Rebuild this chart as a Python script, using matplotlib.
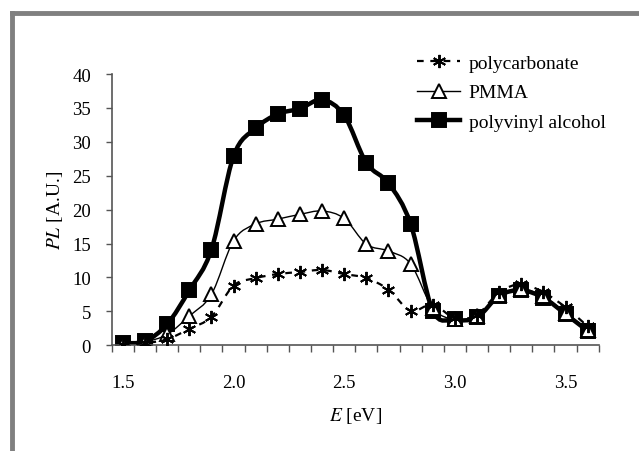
import numpy as np
import matplotlib
matplotlib.use('Agg')
from matplotlib import pyplot as plt
from matplotlib.path import Path
from matplotlib.patches import PathPatch
from matplotlib.lines import Line2D

energy = [1.5, 1.6, 1.7, 1.8, 1.9, 2.0, 2.1, 2.2, 2.3, 2.4, 2.5,
          2.6, 2.7, 2.8, 2.9, 3.0, 3.1, 3.2, 3.3, 3.4, 3.5, 3.6]
polycarbonate = [0.1, 0.3, 0.9, 2.4, 4.2, 8.8, 9.9, 10.5, 10.8, 11.1, 10.5,
                 9.9, 8.2, 5.1, 6.0, 4.0, 4.5, 7.8, 9.0, 7.8, 5.6, 2.8]
pmma = [0.2, 0.5, 1.6, 4.3, 7.5, 15.4, 17.9, 18.6, 19.3, 19.8, 18.7,
        14.9, 13.9, 12.0, 5.5, 3.8, 4.3, 7.4, 8.3, 7.2, 4.8, 2.3]
pva = [0.3, 0.6, 3.1, 8.1, 14.1, 27.9, 32.0, 34.1, 34.9, 36.2, 33.9,
       26.9, 23.9, 17.9, 5.1, 3.8, 4.1, 7.3, 8.1, 7.0, 4.6, 2.1]
x_labels = [1.5, 2.0, 2.5, 3.0, 3.5]

plt.rcParams['font.family'] = ['Liberation Serif', 'DejaVu Serif']
plt.rcParams['mathtext.fontset'] = 'stix'


def smooth_path(xs, ys):
    # excel-like smoothed line: bezier segments through the points
    xs = np.asarray(xs, float)
    ys = np.asarray(ys, float)
    pts = np.column_stack([xs, ys])
    verts = [pts[0]]
    codes = [Path.MOVETO]
    n = len(pts)
    for i in range(n - 1):
        p0 = pts[i - 1] if i > 0 else pts[i]
        p1 = pts[i]
        p2 = pts[i + 1]
        p3 = pts[i + 2] if i + 2 < n else pts[i + 1]
        c1 = p1 + (p2 - p0) / 6.0
        c2 = p2 - (p3 - p1) / 6.0
        verts += [c1, c2, p2]
        codes += [Path.CURVE4] * 3
    return Path(verts, codes)


fig = plt.figure(figsize=(6.39, 4.52), dpi=100)
ax = fig.add_axes([0.175, 0.234, 0.762, 0.600])

series = [
    (pva, 's', 10, 'black', 3.2, '-', 'polyvinyl alcohol', 1),
    (pmma, '^', 10, 'white', 1.0, '-', 'PMMA', 2),
    (polycarbonate, (6, 2, 0), 9.5, 'black', 1.6, (0, (3, 3)), 'polycarbonate', 3),
]
handles = {}
for vals, mk, ms, fc, lw, ls, name, z in series:
    patch = PathPatch(smooth_path(energy, vals), facecolor='none', edgecolor='black',
                      lw=lw, linestyle=ls, zorder=z, capstyle='butt')
    ax.add_patch(patch)
    ax.plot(energy, vals, linestyle='none', marker=mk, ms=ms, mfc=fc, mec='black',
            mew=1.4, zorder=z + 0.5)
    handles[name] = Line2D([], [], color='black', lw=lw, linestyle=ls, marker=mk,
                           ms=ms, mfc=fc, mec='black', mew=1.4)

ax.set_xlim(1.45, 3.65)
ax.set_ylim(0, 40)
ax.set_xticks(x_labels)
ax.set_xticklabels(['%.1f' % v for v in x_labels])
ax.set_xticks(np.arange(1.45, 3.66, 0.1), minor=True)
ax.tick_params(axis='x', which='major', length=0, labelsize=13.5, pad=21)
ax.tick_params(axis='x', which='minor', length=5, width=1, direction='out', color='#555555')
ax.set_yticks(range(0, 41, 5))
ax.tick_params(axis='y', length=4, width=1, direction='out', labelsize=13.5,
               color='#555555', pad=11)
for s in ['top', 'right']:
    ax.spines[s].set_visible(False)
for s in ['left', 'bottom']:
    ax.spines[s].set_color('#555555')
    ax.spines[s].set_linewidth(1.2)

ax.set_xlabel('$E$ [eV]', fontsize=14, labelpad=10)
ax.set_ylabel('$PL$ [A.U.]', fontsize=14, labelpad=5)

order = ['polycarbonate', 'PMMA', 'polyvinyl alcohol']
fig.legend([handles[k] for k in order], order, loc='upper left',
           bbox_to_anchor=(0.653, 0.877), frameon=False, fontsize=14,
           handlelength=2.2, labelspacing=0.6, handletextpad=0.45,
           borderpad=0, borderaxespad=0)

# grey frame on top and left
fig.add_artist(Line2D([0.019, 1.0], [0.969, 0.969], color='#808080', lw=3.5,
                      transform=fig.transFigure))
fig.add_artist(Line2D([0.019, 0.019], [0.0, 0.969], color='#808080', lw=3.5,
                      transform=fig.transFigure))

fig.savefig('out.png', dpi=100)
plt.close(fig)
